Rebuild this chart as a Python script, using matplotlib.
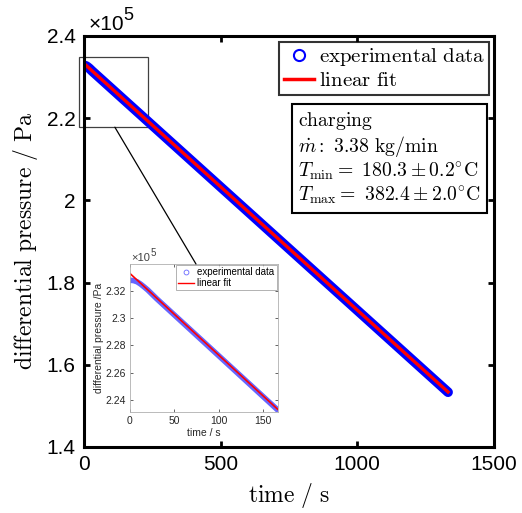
import numpy as np
import matplotlib
matplotlib.use("Agg")
import matplotlib.pyplot as plt
from matplotlib.lines import Line2D
from matplotlib.patches import Rectangle, ConnectionPatch
from matplotlib.ticker import FuncFormatter

plt.rcParams['mathtext.fontset'] = 'cm'
plt.rcParams['font.family'] = ['Liberation Sans', 'DejaVu Sans']

t_exp = [0, 4, 8, 12, 16, 20, 30, 50, 75, 100, 125, 150, 175, 200,
         300, 400, 500, 600, 700, 800, 900, 1000, 1100, 1200, 1300, 1332]
p_exp = [232800, 232780, 232690, 232520, 232310, 232090, 231450, 230250,
         228750, 227250, 225750, 224250, 222750, 221250, 215250, 209250,
         203250, 197250, 191250, 185250, 179250, 173250, 167250, 161250,
         155250, 153330]

# linear fit end points
t_fit = [0, 1332]
p_fit = [233300, 153380]

x_ticks = [0, 500, 1000, 1500]
y_ticks = [1.4e5, 1.6e5, 1.8e5, 2.0e5, 2.2e5, 2.4e5]
x_ticks_in = [0, 50, 100, 150]
y_ticks_in = [2.24e5, 2.26e5, 2.28e5, 2.30e5, 2.32e5]

info_lines = [r"$\mathrm{charging}$",
              r"$\dot{m}\mathrm{:\ 3.38\ kg/min}$",
              r"$T_{\mathrm{min}}{=}\ 180.3\pm0.2^{\circ}\mathrm{C}$",
              r"$T_{\mathrm{max}}{=}\ 382.4\pm2.0^{\circ}\mathrm{C}$"]

sci = FuncFormatter(lambda v, pos: f"{v/1e5:g}")


def times_ten(a, size, sup_size, color):
    t = a.text(0.01, 1.004, "×10", transform=a.transAxes, fontsize=size,
               color=color, ha='left', va='bottom')
    a.annotate("5", xy=(1.0, 0.55), xycoords=t, fontsize=sup_size,
               color=color, ha='left', va='bottom')


fig = plt.figure(figsize=(5.22, 5.13), dpi=100)
ax = fig.add_axes([0.1609, 0.1287, 0.7854, 0.8012])

ax.plot(t_exp, p_exp, color='blue', lw=7, solid_capstyle='round',
        solid_joinstyle='round')
ax.plot(t_fit, p_fit, color='red', lw=2.4)

ax.set_xlim(0, 1500)
ax.set_ylim(1.4e5, 2.4e5)
ax.set_xticks(x_ticks)
ax.set_yticks(y_ticks)
ax.yaxis.set_major_formatter(sci)
ax.tick_params(direction='in', length=4, width=2, labelsize=15,
               top=True, right=True, pad=6)
for s in ax.spines.values():
    s.set_linewidth(2.2)
times_ten(ax, 15, 13, 'black')

ax.set_xlabel(r"$\mathrm{time\ /\ s}$", fontsize=17, labelpad=5)
ax.set_ylabel(r"$\mathrm{differential\ pressure\ /\ Pa}$", fontsize=17,
              labelpad=5)

h_exp = Line2D([], [], ls='none', marker='o', mfc='none', mec='blue',
               ms=8, mew=1.5)
h_fit = Line2D([], [], color='red', lw=2.5)
leg = ax.legend([h_exp, h_fit],
                [r"$\mathrm{experimental\ data}$", r"$\mathrm{linear\ fit}$"],
                loc='upper right', bbox_to_anchor=(0.988, 0.985),
                borderaxespad=0, fontsize=15, fancybox=False,
                handlelength=1.45, handletextpad=0.25, borderpad=0.2,
                labelspacing=0.15)
leg.get_frame().set_edgecolor('black')
leg.get_frame().set_linewidth(1.5)

ax.text(0.522, 0.820, "\n".join(info_lines), transform=ax.transAxes,
        fontsize=14.2, ha='left', va='top', linespacing=1.12,
        bbox=dict(boxstyle='square,pad=0.3', fc='white', ec='black',
                  lw=1.5))

# zoom box
ax.add_patch(Rectangle((-18, 2.178e5), 252, 0.171e5, fill=False,
                       ec='#404040', lw=0.9, clip_on=False))

axin = fig.add_axes([0.2490, 0.1969, 0.2835, 0.2885])
axin.plot(t_exp, p_exp, color='blue', lw=4, alpha=0.6,
          solid_capstyle='round')
axin.plot(t_fit, p_fit, color='red', lw=1.2)
axin.set_xlim(0, 167)
axin.set_ylim(2.231e5, 2.340e5)
axin.set_xticks(x_ticks_in)
axin.set_yticks(y_ticks_in)
axin.yaxis.set_major_formatter(sci)
axin.tick_params(direction='in', length=2, width=0.5, labelsize=7.5,
                 colors='#262626', top=True, right=True, pad=3)
for s in axin.spines.values():
    s.set_color('#b0b0b0')
    s.set_linewidth(0.6)
times_ten(axin, 8, 7, '#404040')
axin.set_xlabel("time / s", fontsize=7.5, color='#262626', labelpad=1)
axin.set_ylabel("differential pressure /Pa", fontsize=7.5, color='#262626',
                labelpad=1)
h_exp_in = Line2D([], [], ls='none', marker='o', mfc='none', mec='blue',
                  ms=3.5, mew=0.6, alpha=0.6)
h_fit_in = Line2D([], [], color='red', lw=1)
leg_in = axin.legend([h_exp_in, h_fit_in], ["experimental data", "linear fit"],
                     loc='upper right', fontsize=7, fancybox=False,
                     borderaxespad=0.15, handlelength=1.6, handletextpad=0.4,
                     borderpad=0.2, labelspacing=0.1)
leg_in.get_frame().set_edgecolor('#909090')
leg_in.get_frame().set_linewidth(0.6)

con = ConnectionPatch(xyA=(113, 2.178e5), coordsA='data', axesA=ax,
                      xyB=(0.446, 1.0), coordsB='axes fraction', axesB=axin,
                      color='black', lw=0.9)
fig.add_artist(con)

fig.savefig("out.png", dpi=100)
